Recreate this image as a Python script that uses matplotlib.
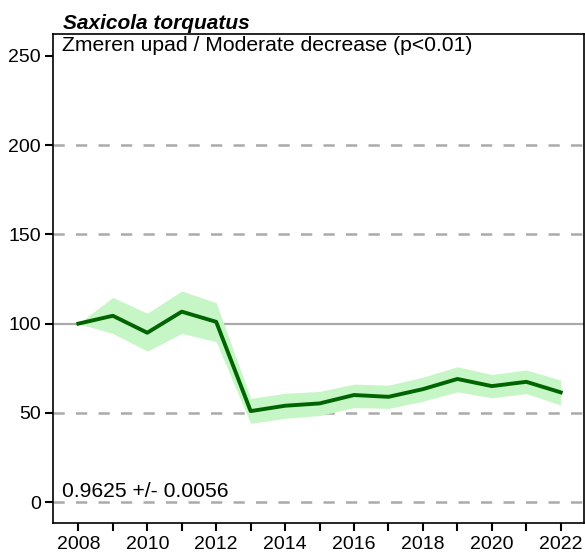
import matplotlib
matplotlib.use("Agg")
import matplotlib.pyplot as plt

plt.rcParams["font.family"] = ["Liberation Sans", "DejaVu Sans"]

years = [2008, 2009, 2010, 2011, 2012, 2013, 2014, 2015,
         2016, 2017, 2018, 2019, 2020, 2021, 2022]
index = [100, 104.4, 94.9, 106.7, 101, 51, 54, 55.3,
         60, 59, 63.3, 69, 65, 67.4, 61.5]
upper = [100, 114.7, 105.8, 118.3, 111.7, 58.1, 61, 62,
         66.1, 65.5, 70, 75.8, 71.5, 74, 68.4]
lower = [100, 94.5, 84.6, 94.5, 89.9, 44.1, 47, 48.5,
         53, 52.5, 56.5, 61.8, 58.5, 60.8, 54.4]

species = "Saxicola torquatus"
trend_label = "Zmeren upad / Moderate decrease (p<0.01)"
slope_label = "0.9625 +/- 0.0056"
yticks = [0, 50, 100, 150, 200, 250]
xticks = list(range(2008, 2023, 2))

fig = plt.figure(figsize=(5.85, 5.56), dpi=100)
ax = fig.add_axes([0.091, 0.059, 0.907, 0.88])

# reference lines
for v in [0, 50, 150, 200]:
    ax.axhline(v, color="#aaaaaa", lw=1.8, dashes=(4.5, 4.5), zorder=1)
ax.axhline(100, color="#aaaaaa", lw=1.6, zorder=1)

ax.fill_between(years, lower, upper, color="#c6f5c6", lw=0, zorder=2)
ax.plot(years, index, color="#006400", lw=2.8, zorder=3)

ax.set_xlim(2007.27, 2022.67)
ax.set_ylim(-11.8, 262.3)
ax.set_yticks(yticks)
ax.set_xticks(range(2008, 2023))
ax.set_xticklabels([str(y) if y in xticks else "" for y in range(2008, 2023)])
ax.tick_params(direction="out", length=6, width=1.5, labelsize=14, pad=3)
for s in ax.spines.values():
    s.set_linewidth(1.2)

ax.text(0.016, 0.996, trend_label, transform=ax.transAxes, ha="left", va="top",
        fontsize=15.2)
ax.text(0.016, 0.045, slope_label, transform=ax.transAxes, ha="left", va="bottom",
        fontsize=15.2)
fig.text(0.108, 0.94, species, ha="left", va="bottom", fontsize=15,
         fontweight="bold", fontstyle="italic")

fig.savefig("out.png", dpi=100)
